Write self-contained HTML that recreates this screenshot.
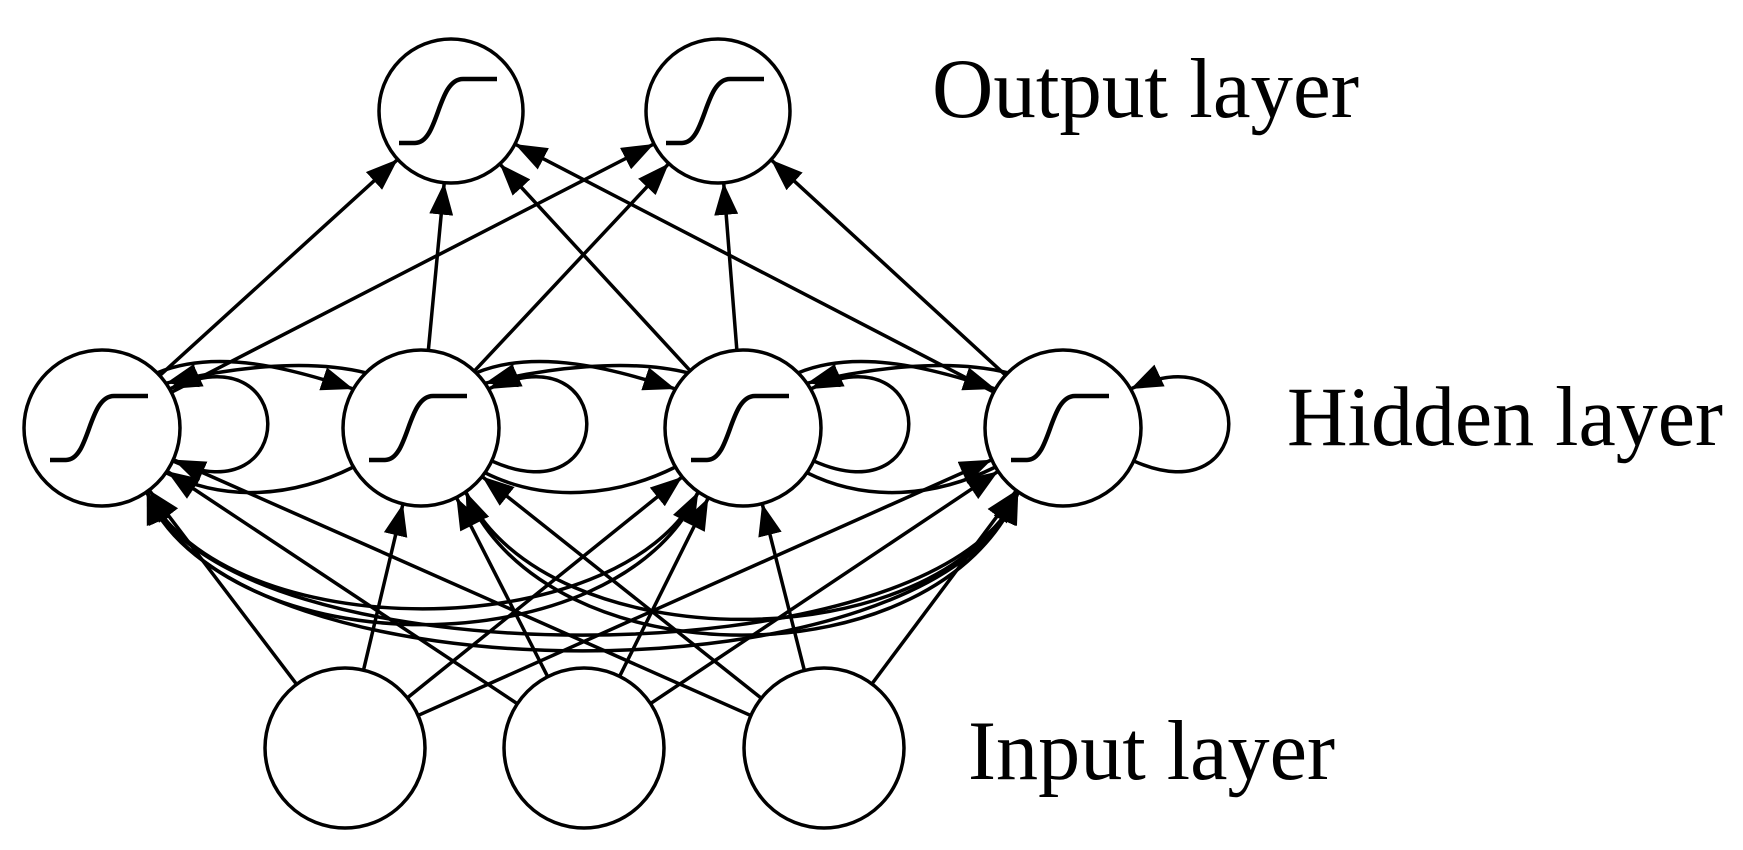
<!DOCTYPE html>
<html><head><meta charset="utf-8"><style>
html,body{margin:0;padding:0;background:#fff;}
svg{display:block}
text{font-family:"Liberation Serif",serif;font-size:85px;fill:#000}
</style></head><body>
<svg id="s" width="1743" height="850" viewBox="0 0 1743 850" xmlns="http://www.w3.org/2000/svg">
<defs><marker id="a" markerUnits="userSpaceOnUse" markerWidth="32" markerHeight="24" refX="32" refY="12" orient="auto"><path d="M0,0 L32,12 L0,24 z" fill="#000"/></marker></defs>
<g id="e" fill="none" stroke="#000" stroke-width="3.5"></g>
<g id="n" fill="#fff" stroke="#000" stroke-width="3.5"></g>
<text x="932" y="117" textLength="427" lengthAdjust="spacingAndGlyphs">Output layer</text>
<text x="1287" y="445" textLength="436" lengthAdjust="spacingAndGlyphs">Hidden layer</text>
<text x="968" y="779" textLength="367" lengthAdjust="spacingAndGlyphs">Input layer</text>
</svg>
<script>
var NS="http://www.w3.org/2000/svg";
var O=[[451,111,72],[718,111,72]];
var H=[[102,428,78],[421,428,78],[743,428,78],[1063,428,78]];
var I=[[345,748,80],[584,748,80],[824,748,80]];
var E=document.getElementById('e'),N=document.getElementById('n');
function el(p,t,at){var x=document.createElementNS(NS,t);for(var k in at)x.setAttribute(k,at[k]);p.appendChild(x);return x;}
function ln(a,b){var dx=b[0]-a[0],dy=b[1]-a[1],d=Math.hypot(dx,dy),ux=dx/d,uy=dy/d;
el(E,'line',{x1:a[0]+a[2]*ux,y1:a[1]+a[2]*uy,x2:b[0]-b[2]*ux,y2:b[1]-b[2]*uy,'marker-end':'url(#a)'});}
function pt(n,ang){var r=ang*Math.PI/180;return [n[0]+n[2]*Math.cos(r),n[1]+n[2]*Math.sin(r)];}
function cur(p0,c1,c2,p1){el(E,'path',{d:'M'+p0+' C'+c1+' '+c2+' '+p1,'marker-end':'url(#a)'});}
H.forEach(function(h){O.forEach(function(o){ln(h,o);});});
I.forEach(function(i){H.forEach(function(h){ln(i,h);});});
H.forEach(function(h){var s=pt(h,25),t=pt(h,-30);
cur(s,[h[0]+h[2]+120,h[1]+90],[h[0]+h[2]+120,h[1]-100],t);});
for(var k=0;k<3;k++){var a=H[k],b=H[k+1];
var s=pt(a,-45),t=pt(b,-150);cur(s,[s[0]+60,s[1]-25],[t[0]-60,t[1]-20],t);
var s2=pt(b,-135),t2=pt(a,-35);cur(s2,[s2[0]-60,s2[1]-15],[t2[0]+60,t2[1]-15],t2);
var s3=pt(b,150),t3=pt(a,35);el(E,'path',{d:'M'+s3+' C'+[s3[0]-60,s3[1]+30]+' '+[t3[0]+60,t3[1]+30]+' '+t3});}
var L=[[0,2],[0,3],[1,3],[2,0],[3,0],[3,1]];
L.forEach(function(p,j){var a=H[p[0]],b=H[p[1]];var fw=p[0]<p[1];
var s=pt(a,fw?55:125),t=pt(b,fw?125:55);var dep=100+Math.abs(p[1]-p[0])*28+j*7;
cur(s,[s[0]+(fw?1:-1)*80,s[1]+dep],[t[0]-(fw?1:-1)*80,t[1]+dep],t);});
O.concat(H).concat(I).forEach(function(c){el(N,'circle',{cx:c[0],cy:c[1],r:c[2]});});
O.concat(H).forEach(function(c){var x=c[0],y=c[1];
el(N,'path',{d:'M'+(x-52)+','+(y+32)+' L'+(x-36)+','+(y+32)+' C'+(x-12)+','+(y+32)+' '+(x-14)+','+(y-32)+' '+(x+12)+','+(y-32)+' L'+(x+46)+','+(y-32),fill:'none','stroke-width':4.5});});
</script>
</body></html>
